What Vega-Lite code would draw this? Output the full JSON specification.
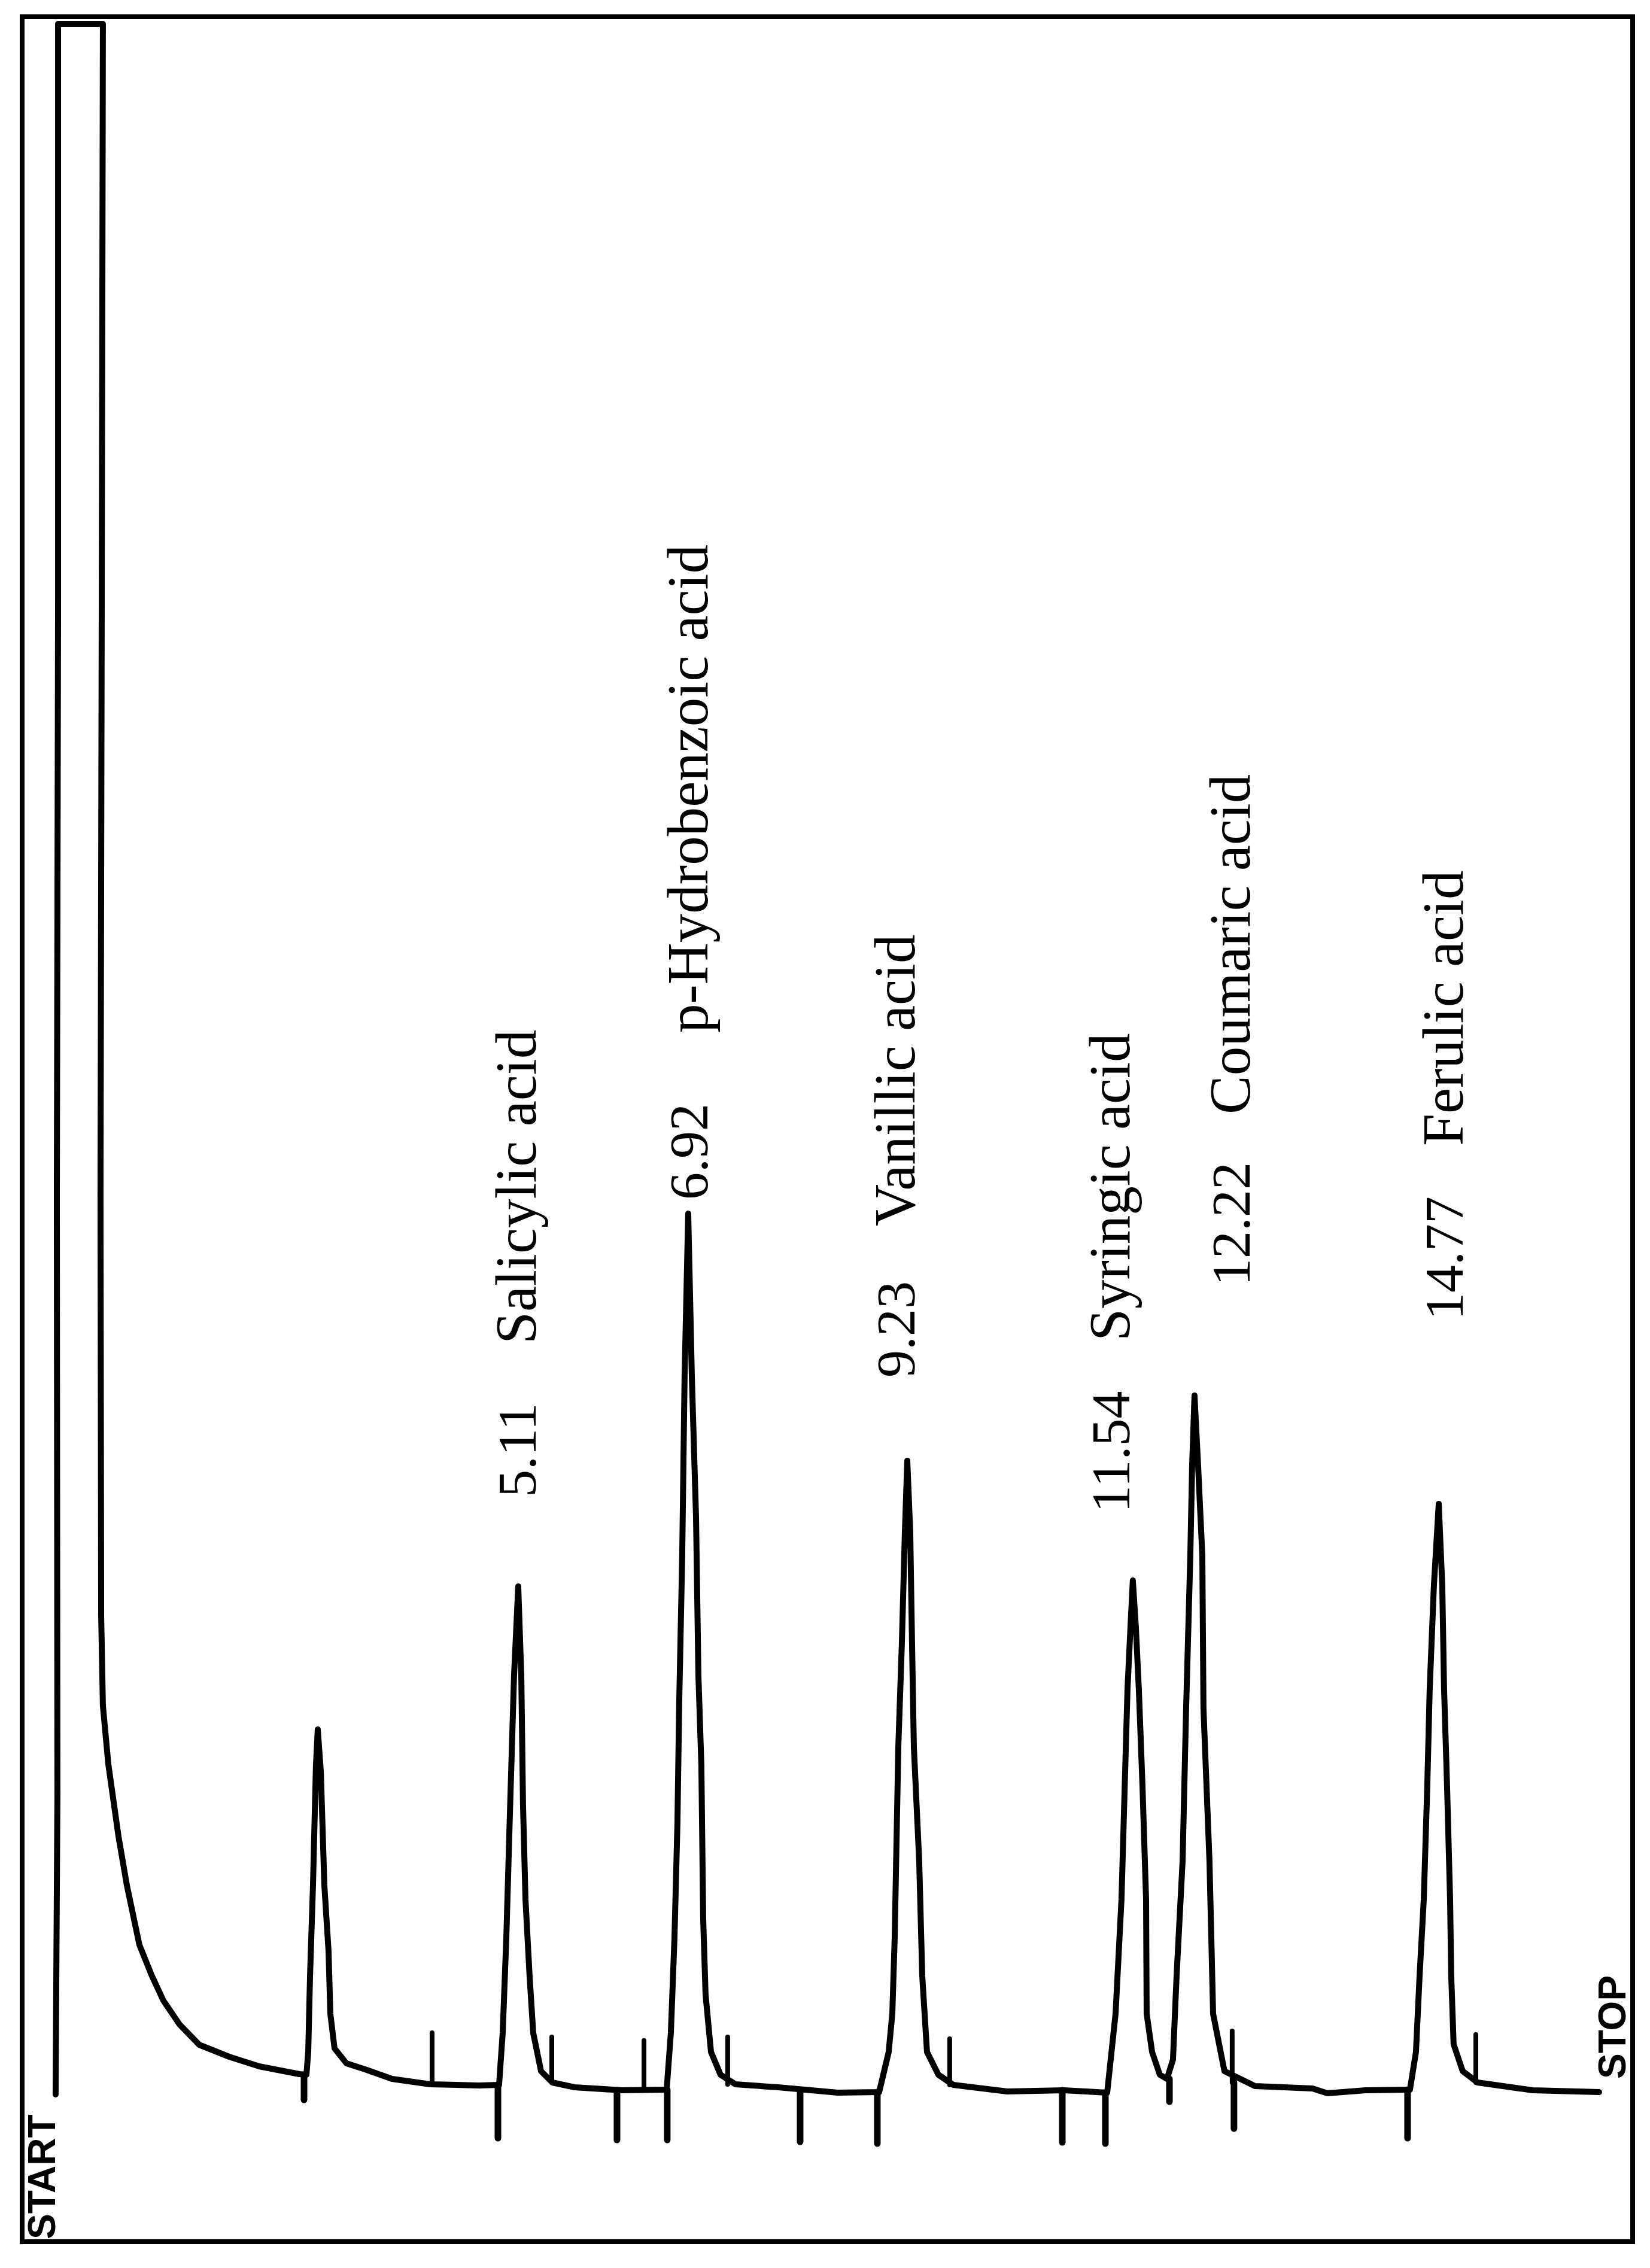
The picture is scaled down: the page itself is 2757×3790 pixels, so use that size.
{
  "$schema": "https://vega.github.io/schema/vega-lite/v6.json",
  "width": 2691,
  "height": 3718,
  "autosize": {"type": "none"},
  "padding": {"left": 37, "top": 28, "right": 29, "bottom": 44},
  "background": "white",
  "config": {"view": {"stroke": "black", "strokeWidth": 8}},
  "datasets": {
    "trace": [
      {"seq": 1, "t": 0.257, "v": -2.0}, {"seq": 2, "t": 0.276, "v": 48.0}, {"seq": 3, "t": 0.270, "v": 148.0},
      {"seq": 4, "t": 0.283, "v": 248.0}, {"seq": 5, "t": 0.283, "v": 344.0}, {"seq": 6, "t": 0.753, "v": 344.0},
      {"seq": 7, "t": 0.741, "v": 248.0}, {"seq": 8, "t": 0.728, "v": 148.0}, {"seq": 9, "t": 0.735, "v": 78.0},
      {"seq": 10, "t": 0.753, "v": 63.0}, {"seq": 11, "t": 0.810, "v": 53.2}, {"seq": 12, "t": 0.917, "v": 41.1},
      {"seq": 13, "t": 1.004, "v": 33.0}, {"seq": 14, "t": 1.136, "v": 23.0}, {"seq": 15, "t": 1.262, "v": 18.0},
      {"seq": 16, "t": 1.387, "v": 13.7}, {"seq": 17, "t": 1.557, "v": 9.7}, {"seq": 18, "t": 1.764, "v": 6.3},
      {"seq": 19, "t": 2.078, "v": 4.3}, {"seq": 20, "t": 2.392, "v": 2.7}, {"seq": 21, "t": 2.813, "v": 1.4},
      {"seq": 22, "t": 2.888, "v": 1.3}, {"seq": 23, "t": 2.907, "v": 5.1}, {"seq": 24, "t": 2.926, "v": 17.8},
      {"seq": 25, "t": 2.957, "v": 33.0}, {"seq": 26, "t": 2.988, "v": 53.0}, {"seq": 27, "t": 3.007, "v": 59.0},
      {"seq": 28, "t": 3.039, "v": 52.0}, {"seq": 29, "t": 3.076, "v": 33.0}, {"seq": 30, "t": 3.120, "v": 22.0},
      {"seq": 31, "t": 3.139, "v": 11.5}, {"seq": 32, "t": 3.183, "v": 5.7}, {"seq": 33, "t": 3.308, "v": 3.2},
      {"seq": 34, "t": 3.503, "v": 2.2}, {"seq": 35, "t": 3.786, "v": 0.6}, {"seq": 36, "t": 4.187, "v": -0.3},
      {"seq": 37, "t": 4.696, "v": -0.5}, {"seq": 38, "t": 4.909, "v": -0.4}, {"seq": 39, "t": 4.947, "v": 8.3},
      {"seq": 40, "t": 4.985, "v": 24.2}, {"seq": 41, "t": 5.022, "v": 44.6}, {"seq": 42, "t": 5.066, "v": 68.0},
      {"seq": 43, "t": 5.110, "v": 82.9}, {"seq": 44, "t": 5.142, "v": 68.0}, {"seq": 45, "t": 5.160, "v": 46.5},
      {"seq": 46, "t": 5.186, "v": 30.6}, {"seq": 47, "t": 5.229, "v": 17.8}, {"seq": 48, "t": 5.267, "v": 8.3},
      {"seq": 49, "t": 5.349, "v": 1.9}, {"seq": 50, "t": 5.468, "v": 0.0}, {"seq": 51, "t": 5.700, "v": -0.8},
      {"seq": 52, "t": 6.203, "v": -1.3}, {"seq": 53, "t": 6.667, "v": -1.2}, {"seq": 54, "t": 6.711, "v": 8.3},
      {"seq": 55, "t": 6.749, "v": 24.2}, {"seq": 56, "t": 6.780, "v": 43.4}, {"seq": 57, "t": 6.799, "v": 63.8},
      {"seq": 58, "t": 6.830, "v": 88.0}, {"seq": 59, "t": 6.855, "v": 118.0}, {"seq": 60, "t": 6.893, "v": 145.2},
      {"seq": 61, "t": 6.931, "v": 118.0}, {"seq": 62, "t": 6.975, "v": 94.5}, {"seq": 63, "t": 7.000, "v": 68.0},
      {"seq": 64, "t": 7.031, "v": 53.0}, {"seq": 65, "t": 7.050, "v": 27.4}, {"seq": 66, "t": 7.075, "v": 14.7},
      {"seq": 67, "t": 7.132, "v": 5.1}, {"seq": 68, "t": 7.232, "v": 1.3}, {"seq": 69, "t": 7.389, "v": -0.3},
      {"seq": 70, "t": 7.835, "v": -0.8}, {"seq": 71, "t": 8.463, "v": -1.7}, {"seq": 72, "t": 8.896, "v": -1.6},
      {"seq": 73, "t": 8.996, "v": 5.1}, {"seq": 74, "t": 9.034, "v": 11.5}, {"seq": 75, "t": 9.059, "v": 24.2},
      {"seq": 76, "t": 9.097, "v": 56.1}, {"seq": 77, "t": 9.134, "v": 73.3}, {"seq": 78, "t": 9.166, "v": 92.0},
      {"seq": 79, "t": 9.191, "v": 103.9}, {"seq": 80, "t": 9.222, "v": 92.0}, {"seq": 81, "t": 9.241, "v": 73.3},
      {"seq": 82, "t": 9.260, "v": 56.1}, {"seq": 83, "t": 9.316, "v": 37.0}, {"seq": 84, "t": 9.348, "v": 17.8},
      {"seq": 85, "t": 9.398, "v": 5.1}, {"seq": 86, "t": 9.517, "v": 1.3}, {"seq": 87, "t": 9.674, "v": -0.4},
      {"seq": 88, "t": 10.239, "v": -1.5}, {"seq": 89, "t": 10.836, "v": -1.3}, {"seq": 90, "t": 11.288, "v": -1.7},
      {"seq": 91, "t": 11.376, "v": 11.5}, {"seq": 92, "t": 11.438, "v": 30.6}, {"seq": 93, "t": 11.501, "v": 65.7},
      {"seq": 94, "t": 11.532, "v": 76.0}, {"seq": 95, "t": 11.557, "v": 83.9}, {"seq": 96, "t": 11.589, "v": 76.0},
      {"seq": 97, "t": 11.620, "v": 65.7}, {"seq": 98, "t": 11.658, "v": 49.7}, {"seq": 99, "t": 11.696, "v": 30.6},
      {"seq": 100, "t": 11.702, "v": 11.5}, {"seq": 101, "t": 11.759, "v": 5.1}, {"seq": 102, "t": 11.840, "v": 1.3},
      {"seq": 103, "t": 11.915, "v": 0.6}, {"seq": 104, "t": 11.978, "v": 3.8}, {"seq": 105, "t": 12.016, "v": 17.8},
      {"seq": 106, "t": 12.079, "v": 37.0}, {"seq": 107, "t": 12.116, "v": 62.5}, {"seq": 108, "t": 12.160, "v": 88.0},
      {"seq": 109, "t": 12.179, "v": 103.0}, {"seq": 110, "t": 12.204, "v": 114.8}, {"seq": 111, "t": 12.242, "v": 103.0},
      {"seq": 112, "t": 12.286, "v": 88.0}, {"seq": 113, "t": 12.298, "v": 62.5}, {"seq": 114, "t": 12.361, "v": 37.0},
      {"seq": 115, "t": 12.399, "v": 11.5}, {"seq": 116, "t": 12.518, "v": 1.9}, {"seq": 117, "t": 12.838, "v": -0.6},
      {"seq": 118, "t": 13.441, "v": -1.0}, {"seq": 119, "t": 13.598, "v": -1.8}, {"seq": 120, "t": 13.999, "v": -1.3},
      {"seq": 121, "t": 14.464, "v": -1.2}, {"seq": 122, "t": 14.527, "v": 5.1}, {"seq": 123, "t": 14.565, "v": 17.8},
      {"seq": 124, "t": 14.609, "v": 30.6}, {"seq": 125, "t": 14.646, "v": 49.7}, {"seq": 126, "t": 14.671, "v": 65.7},
      {"seq": 127, "t": 14.715, "v": 83.0}, {"seq": 128, "t": 14.766, "v": 96.7}, {"seq": 129, "t": 14.803, "v": 83.0},
      {"seq": 130, "t": 14.822, "v": 65.7}, {"seq": 131, "t": 14.853, "v": 49.7}, {"seq": 132, "t": 14.885, "v": 30.6},
      {"seq": 133, "t": 14.897, "v": 17.8}, {"seq": 134, "t": 14.922, "v": 6.4}, {"seq": 135, "t": 15.017, "v": 1.9},
      {"seq": 136, "t": 15.173, "v": 0.0}, {"seq": 137, "t": 15.751, "v": -1.3}, {"seq": 138, "t": 16.448, "v": -1.6}
    ],
    "ticks": [
      {"kind": "down", "t": 2.863, "v1": 1.3, "v2": -2.9},
      {"kind": "down", "t": 4.897, "v1": -0.4, "v2": -9.3},
      {"kind": "down", "t": 6.146, "v1": -1.3, "v2": -9.6},
      {"kind": "down", "t": 6.673, "v1": -1.2, "v2": -9.6},
      {"kind": "down", "t": 8.067, "v1": -1.7, "v2": -9.9},
      {"kind": "down", "t": 8.877, "v1": -1.6, "v2": -10.2},
      {"kind": "down", "t": 10.817, "v1": -1.3, "v2": -10.0},
      {"kind": "down", "t": 11.269, "v1": -1.7, "v2": -10.2},
      {"kind": "down", "t": 11.941, "v1": 0.6, "v2": -3.2},
      {"kind": "down", "t": 12.618, "v1": 0.0, "v2": -7.7},
      {"kind": "down", "t": 14.439, "v1": -1.2, "v2": -9.3},
      {"kind": "up", "t": 4.206, "v1": -0.3, "v2": 8.3},
      {"kind": "up", "t": 5.462, "v1": 0.0, "v2": 7.6},
      {"kind": "up", "t": 6.429, "v1": -1.3, "v2": 7.0},
      {"kind": "up", "t": 7.307, "v1": -0.3, "v2": 7.6},
      {"kind": "up", "t": 9.636, "v1": -0.4, "v2": 7.3},
      {"kind": "up", "t": 12.599, "v1": 0.0, "v2": 8.6},
      {"kind": "up", "t": 15.155, "v1": 0.0, "v2": 8.0}
    ],
    "labels": [
      {"kind": "rt", "text": "5.11", "t": 5.292, "v": 97.8},
      {"kind": "name", "text": "Salicylic acid", "t": 5.292, "v": 123.4},
      {"kind": "rt", "text": "6.92", "t": 7.094, "v": 147.5},
      {"kind": "name", "text": "p-Hydrobenzoic acid", "t": 7.094, "v": 175.4},
      {"kind": "rt", "text": "9.23", "t": 9.266, "v": 117.8},
      {"kind": "name", "text": "Vanillic acid", "t": 9.266, "v": 143.1},
      {"kind": "rt", "text": "11.54", "t": 11.52, "v": 95.2},
      {"kind": "name", "text": "Syringic acid", "t": 11.52, "v": 123.9},
      {"kind": "rt", "text": "12.22", "t": 12.782, "v": 133.1},
      {"kind": "name", "text": "Coumaric acid", "t": 12.782, "v": 161.8},
      {"kind": "rt", "text": "14.77", "t": 15.017, "v": 127.4},
      {"kind": "name", "text": "Ferulic acid", "t": 15.017, "v": 156.5}
    ],
    "events": [
      {"text": "START", "t": 0.251, "v": -26.2},
      {"text": "STOP", "t": 16.724, "v": 0.6}
    ]
  },
  "layer": [
    {
      "data": {"name": "trace"},
      "mark": {"type": "line", "stroke": "black", "strokeWidth": 10, "strokeJoin": "round", "strokeCap": "round"},
      "encoding": {
        "x": {"field": "t", "type": "quantitative", "scale": {"domain": [-0.094, 16.8], "nice": false, "zero": false}, "axis": null},
        "y": {"field": "v", "type": "quantitative", "scale": {"domain": [-26.6, 345.2], "nice": false, "zero": false}, "axis": null},
        "order": {"field": "seq", "type": "quantitative"}
      }
    },
    {
      "data": {"name": "ticks"},
      "transform": [{"filter": "datum.kind === 'down'"}],
      "mark": {"type": "rule", "stroke": "black", "strokeWidth": 11, "strokeCap": "round"},
      "encoding": {
        "x": {"field": "t", "type": "quantitative"},
        "y": {"field": "v1", "type": "quantitative"},
        "y2": {"field": "v2"}
      }
    },
    {
      "data": {"name": "ticks"},
      "transform": [{"filter": "datum.kind === 'up'"}],
      "mark": {"type": "rule", "stroke": "black", "strokeWidth": 8, "strokeCap": "round"},
      "encoding": {
        "x": {"field": "t", "type": "quantitative"},
        "y": {"field": "v1", "type": "quantitative"},
        "y2": {"field": "v2"}
      }
    },
    {
      "data": {"name": "labels"},
      "transform": [{"filter": "datum.kind === 'name'"}],
      "mark": {"type": "text", "angle": 270, "align": "left", "baseline": "alphabetic", "font": "Liberation Serif", "fontSize": 97, "fill": "black"},
      "encoding": {
        "x": {"field": "t", "type": "quantitative"},
        "y": {"field": "v", "type": "quantitative"},
        "text": {"field": "text"}
      }
    },
    {
      "data": {"name": "labels"},
      "transform": [{"filter": "datum.kind === 'rt'"}],
      "mark": {"type": "text", "angle": 270, "align": "left", "baseline": "alphabetic", "font": "Liberation Serif", "fontSize": 92, "fill": "black"},
      "encoding": {
        "x": {"field": "t", "type": "quantitative"},
        "y": {"field": "v", "type": "quantitative"},
        "text": {"field": "text"}
      }
    },
    {
      "data": {"name": "events"},
      "mark": {"type": "text", "angle": 270, "align": "left", "baseline": "alphabetic", "font": "Liberation Sans", "fontSize": 64, "fontWeight": "bold", "fill": "black"},
      "encoding": {
        "x": {"field": "t", "type": "quantitative"},
        "y": {"field": "v", "type": "quantitative"},
        "text": {"field": "text"}
      }
    }
  ]
}
